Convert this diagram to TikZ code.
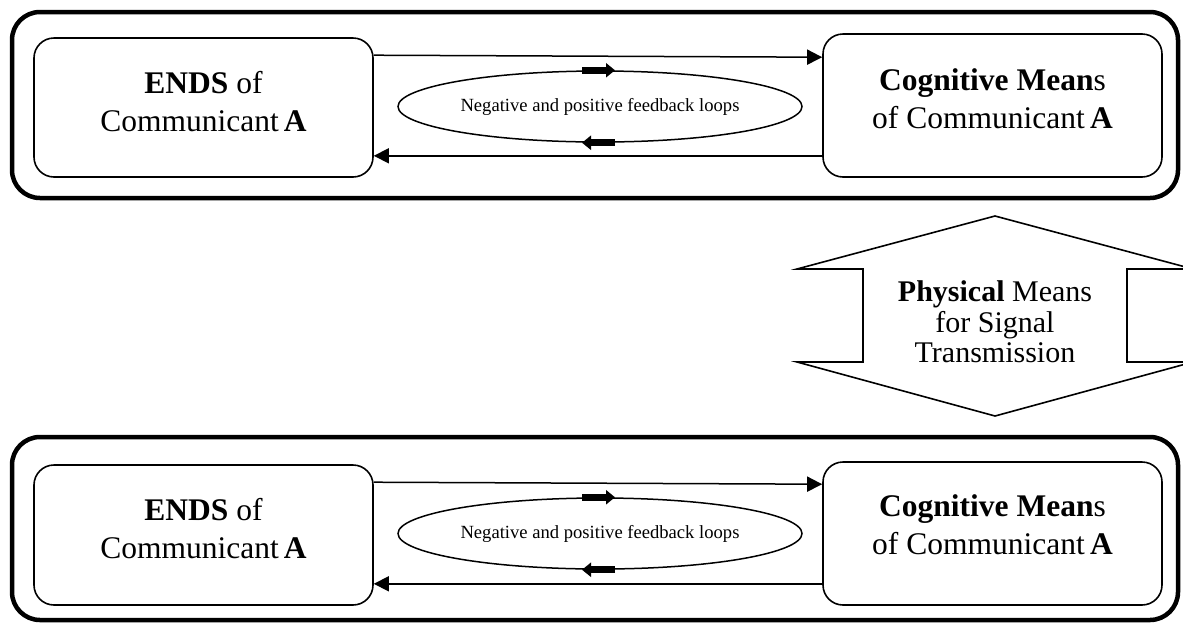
\documentclass[tikz,border=0pt]{standalone}
\usepackage{fontspec}
\setmainfont{Liberation Serif}
\usetikzlibrary{arrows.meta,shapes.geometric}

\begin{document}
\begin{tikzpicture}[x=1pt,y=-1pt,
  outerframe/.style={draw,line width=4.5pt,rounded corners=28pt,minimum width=1166pt,inner sep=0pt},
  mbox/.style={draw,line width=1.6pt,rounded corners=20pt,minimum width=339pt,inner sep=0pt},
  boxtext/.style={align=center,inner sep=0pt,font=\fontsize{31.5}{38}\selectfont},
  flow/.style={line width=1.5pt,-{Triangle[length=15pt,width=15pt]}},
  fbellipse/.style={draw,ellipse,line width=1.5pt,minimum width=404pt,minimum height=71pt,inner sep=0pt,
    font=\fontsize{18.6}{22}\selectfont},
  fbarrow/.style={line width=7pt,-{Triangle[length=9pt,width=14pt]}},
]
\useasboundingbox (0,0) rectangle (1183,622);
\clip (0,0) rectangle (1183,622);

% ---- upper communicant ----
\node[outerframe,minimum height=186pt] (frameA) at (595,105) {};
\node[mbox,minimum height=139pt] (endsA) at (203.5,107.5) {};
\node[mbox,minimum height=143pt] (meansA) at (992.5,105.5) {};
\node[boxtext] (endsAtext) at (203.5,102) {\textbf{ENDS} of\\Communicant\,\textbf{A}};
\node[boxtext] (meansAtext) at (992.5,99) {\textbf{Cognitive Mean}s\\of Communicant\,\textbf{A}};
\node[fbellipse] (loopA) at (600,106.5) {Negative and positive feedback loops};
\draw[flow] ([yshift=-18pt]endsA.north east) -- ([yshift=-24pt]meansA.north west);
\draw[flow] ([yshift=22pt]meansA.south west) -- ([yshift=22pt]endsA.south east);
\draw[fbarrow] ([xshift=-18pt]loopA.north) -- ([xshift=15pt]loopA.north);
\draw[fbarrow] ([xshift=15pt]loopA.south) -- ([xshift=-18pt]loopA.south);

% ---- physical channel (up-down arrow) ----
\draw[line width=1.6pt,line join=miter]
  (995,216) -- (1193,269) -- (1127,269) -- (1127,362) -- (1193,362) -- (995,416)
  -- (797,362) -- (863,362) -- (863,269) -- (797,269) -- cycle;
\node[align=center,inner sep=0pt,font=\fontsize{30}{30.5}\selectfont] (phys) at (995,322)
  {\textbf{Physical} Means\\for Signal\\Transmission};

% ---- lower communicant ----
\node[outerframe,minimum height=183pt] (frameB) at (595,528.5) {};
\node[mbox,minimum height=140pt] (endsB) at (203.5,535) {};
\node[mbox,minimum height=143pt] (meansB) at (992.5,533.5) {};
\node[boxtext] (endsBtext) at (203.5,529) {\textbf{ENDS} of\\Communicant\,\textbf{A}};
\node[boxtext] (meansBtext) at (992.5,525) {\textbf{Cognitive Mean}s\\of Communicant\,\textbf{A}};
\node[fbellipse] (loopB) at (600,533.5) {Negative and positive feedback loops};
\draw[flow] ([yshift=-18pt]endsB.north east) -- ([yshift=-23pt]meansB.north west);
\draw[flow] ([yshift=22pt]meansB.south west) -- ([yshift=22pt]endsB.south east);
\draw[fbarrow] ([xshift=-18pt]loopB.north) -- ([xshift=15pt]loopB.north);
\draw[fbarrow] ([xshift=15pt]loopB.south) -- ([xshift=-18pt]loopB.south);
\end{tikzpicture}
\end{document}
